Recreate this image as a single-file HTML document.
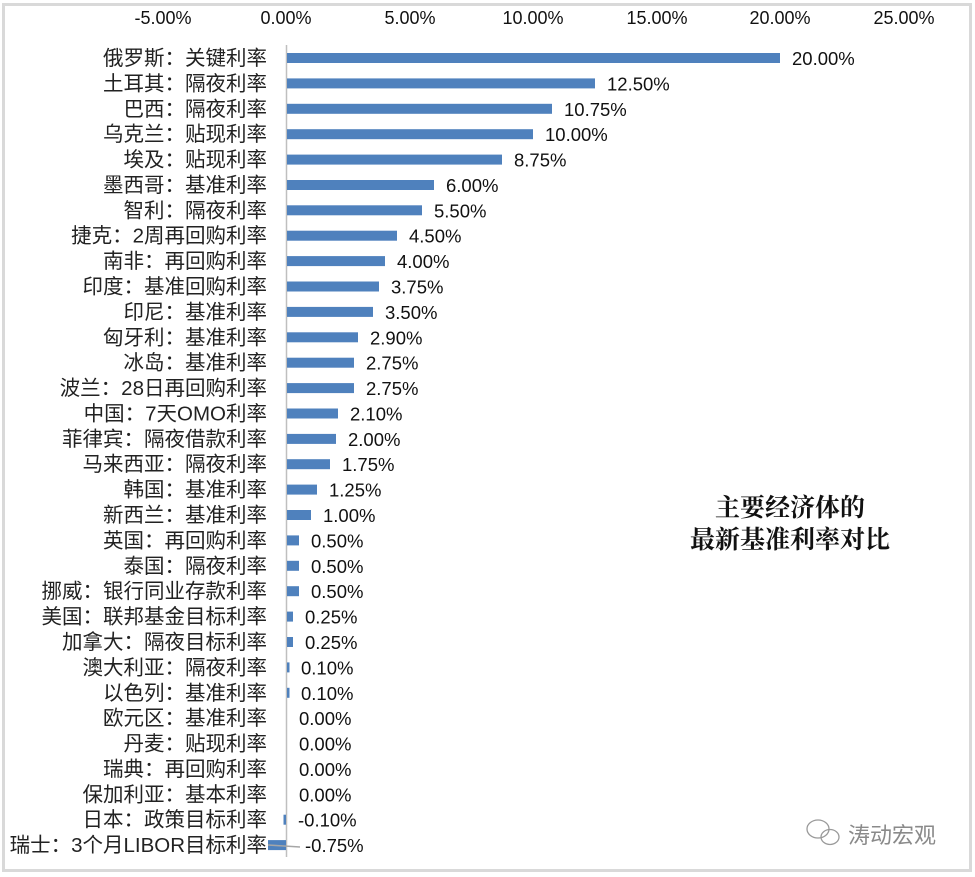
<!DOCTYPE html>
<html><head><meta charset="utf-8"><style>
html,body{margin:0;padding:0;background:#fff}
svg{display:block}
.l{font-family:"Liberation Sans","Noto Sans CJK SC",sans-serif;font-size:20.5px;fill:#222;text-anchor:end}
.v{font-family:"Liberation Sans","Noto Sans CJK SC",sans-serif;font-size:18.5px;fill:#111}
.t{font-family:"Liberation Sans","Noto Sans CJK SC",sans-serif;font-size:18px;fill:#111;text-anchor:middle}
.h{font-family:"Liberation Serif","Noto Serif CJK SC",serif;font-size:25px;font-weight:bold;fill:#111;text-anchor:middle}
rect.b{fill:#4f81bd}
</style></head><body>
<svg width="975" height="877" viewBox="0 0 975 877">
<rect x="3.5" y="4.5" width="967" height="866" fill="#fff" stroke="#d9d9d9" stroke-width="3"/>
<g class="t">
<text x="163" y="24">-5.00%</text><text x="286" y="24">0.00%</text><text x="410" y="24">5.00%</text><text x="533" y="24">10.00%</text><text x="657" y="24">15.00%</text><text x="780" y="24">20.00%</text><text x="904" y="24">25.00%</text>
</g>
<line x1="286.5" y1="45" x2="286.5" y2="857" stroke="#bfbfbf" stroke-width="1.5"/>
<g>
<rect class="b" x="287" y="53" width="493" height="10"/>
<rect class="b" x="287" y="78.4" width="308" height="10"/>
<rect class="b" x="287" y="103.8" width="265" height="10"/>
<rect class="b" x="287" y="129.2" width="246" height="10"/>
<rect class="b" x="287" y="154.6" width="215" height="10"/>
<rect class="b" x="287" y="180" width="147" height="10"/>
<rect class="b" x="287" y="205.3" width="135" height="10"/>
<rect class="b" x="287" y="230.7" width="110" height="10"/>
<rect class="b" x="287" y="256.1" width="98" height="10"/>
<rect class="b" x="287" y="281.5" width="92" height="10"/>
<rect class="b" x="287" y="306.9" width="86" height="10"/>
<rect class="b" x="287" y="332.3" width="71" height="10"/>
<rect class="b" x="287" y="357.7" width="67" height="10"/>
<rect class="b" x="287" y="383.1" width="67" height="10"/>
<rect class="b" x="287" y="408.5" width="51" height="10"/>
<rect class="b" x="287" y="433.9" width="49" height="10"/>
<rect class="b" x="287" y="459.2" width="43" height="10"/>
<rect class="b" x="287" y="484.6" width="30" height="10"/>
<rect class="b" x="287" y="510" width="24" height="10"/>
<rect class="b" x="287" y="535.4" width="12" height="10"/>
<rect class="b" x="287" y="560.8" width="12" height="10"/>
<rect class="b" x="287" y="586.2" width="12" height="10"/>
<rect class="b" x="287" y="611.6" width="6" height="10"/>
<rect class="b" x="287" y="637" width="6" height="10"/>
<rect class="b" x="287" y="662.4" width="2.5" height="10"/>
<rect class="b" x="287" y="687.8" width="2.5" height="10"/>
<rect class="b" x="283.5" y="814.7" width="2.5" height="10"/>
<rect class="b" x="268" y="840.1" width="18" height="10"/>
<line x1="268" y1="845" x2="300" y2="847" stroke="#a6a6a6" stroke-width="1.5"/>
</g>
<g class="l">
<text x="267" y="65">俄罗斯：关键利率</text>
<text x="267" y="90.4">土耳其：隔夜利率</text>
<text x="267" y="115.8">巴西：隔夜利率</text>
<text x="267" y="141.2">乌克兰：贴现利率</text>
<text x="267" y="166.6">埃及：贴现利率</text>
<text x="267" y="192">墨西哥：基准利率</text>
<text x="267" y="217.3">智利：隔夜利率</text>
<text x="267" y="242.7">捷克：2周再回购利率</text>
<text x="267" y="268.1">南非：再回购利率</text>
<text x="267" y="293.5">印度：基准回购利率</text>
<text x="267" y="318.9">印尼：基准利率</text>
<text x="267" y="344.3">匈牙利：基准利率</text>
<text x="267" y="369.7">冰岛：基准利率</text>
<text x="267" y="395.1">波兰：28日再回购利率</text>
<text x="267" y="420.5">中国：7天OMO利率</text>
<text x="267" y="445.9">菲律宾：隔夜借款利率</text>
<text x="267" y="471.2">马来西亚：隔夜利率</text>
<text x="267" y="496.6">韩国：基准利率</text>
<text x="267" y="522">新西兰：基准利率</text>
<text x="267" y="547.4">英国：再回购利率</text>
<text x="267" y="572.8">泰国：隔夜利率</text>
<text x="267" y="598.2">挪威：银行同业存款利率</text>
<text x="267" y="623.6">美国：联邦基金目标利率</text>
<text x="267" y="649">加拿大：隔夜目标利率</text>
<text x="267" y="674.4">澳大利亚：隔夜利率</text>
<text x="267" y="699.8">以色列：基准利率</text>
<text x="267" y="725.1">欧元区：基准利率</text>
<text x="267" y="750.5">丹麦：贴现利率</text>
<text x="267" y="775.9">瑞典：再回购利率</text>
<text x="267" y="801.3">保加利亚：基本利率</text>
<text x="267" y="826.7">日本：政策目标利率</text>
<text x="267" y="852.1">瑞士：3个月LIBOR目标利率</text>
</g>
<g class="v">
<text x="792" y="65">20.00%</text>
<text x="607" y="90.4">12.50%</text>
<text x="564" y="115.8">10.75%</text>
<text x="545" y="141.2">10.00%</text>
<text x="514" y="166.6">8.75%</text>
<text x="446" y="192">6.00%</text>
<text x="434" y="217.3">5.50%</text>
<text x="409" y="242.7">4.50%</text>
<text x="397" y="268.1">4.00%</text>
<text x="391" y="293.5">3.75%</text>
<text x="385" y="318.9">3.50%</text>
<text x="370" y="344.3">2.90%</text>
<text x="366" y="369.7">2.75%</text>
<text x="366" y="395.1">2.75%</text>
<text x="350" y="420.5">2.10%</text>
<text x="348" y="445.9">2.00%</text>
<text x="342" y="471.2">1.75%</text>
<text x="329" y="496.6">1.25%</text>
<text x="323" y="522">1.00%</text>
<text x="311" y="547.4">0.50%</text>
<text x="311" y="572.8">0.50%</text>
<text x="311" y="598.2">0.50%</text>
<text x="305" y="623.6">0.25%</text>
<text x="305" y="649">0.25%</text>
<text x="301" y="674.4">0.10%</text>
<text x="301" y="699.8">0.10%</text>
<text x="299" y="725.1">0.00%</text>
<text x="299" y="750.5">0.00%</text>
<text x="299" y="775.9">0.00%</text>
<text x="299" y="801.3">0.00%</text>
<text x="298" y="826.7">-0.10%</text>
<text x="305" y="852.1">-0.75%</text>
</g>
<text class="h" x="790" y="516">主要经济体的</text>
<text class="h" x="790" y="548">最新基准利率对比</text>
<g fill="none" stroke="#9a9a9a" stroke-width="1.3">
<ellipse cx="818" cy="829" rx="11" ry="9"/>
<ellipse cx="830" cy="837" rx="9" ry="7.5"/>
</g>
<text x="848" y="843" style="font-family:'Liberation Sans','Noto Sans CJK SC',sans-serif;font-size:22px;fill:#8a8a8a">涛动宏观</text>
</svg>
</body></html>
